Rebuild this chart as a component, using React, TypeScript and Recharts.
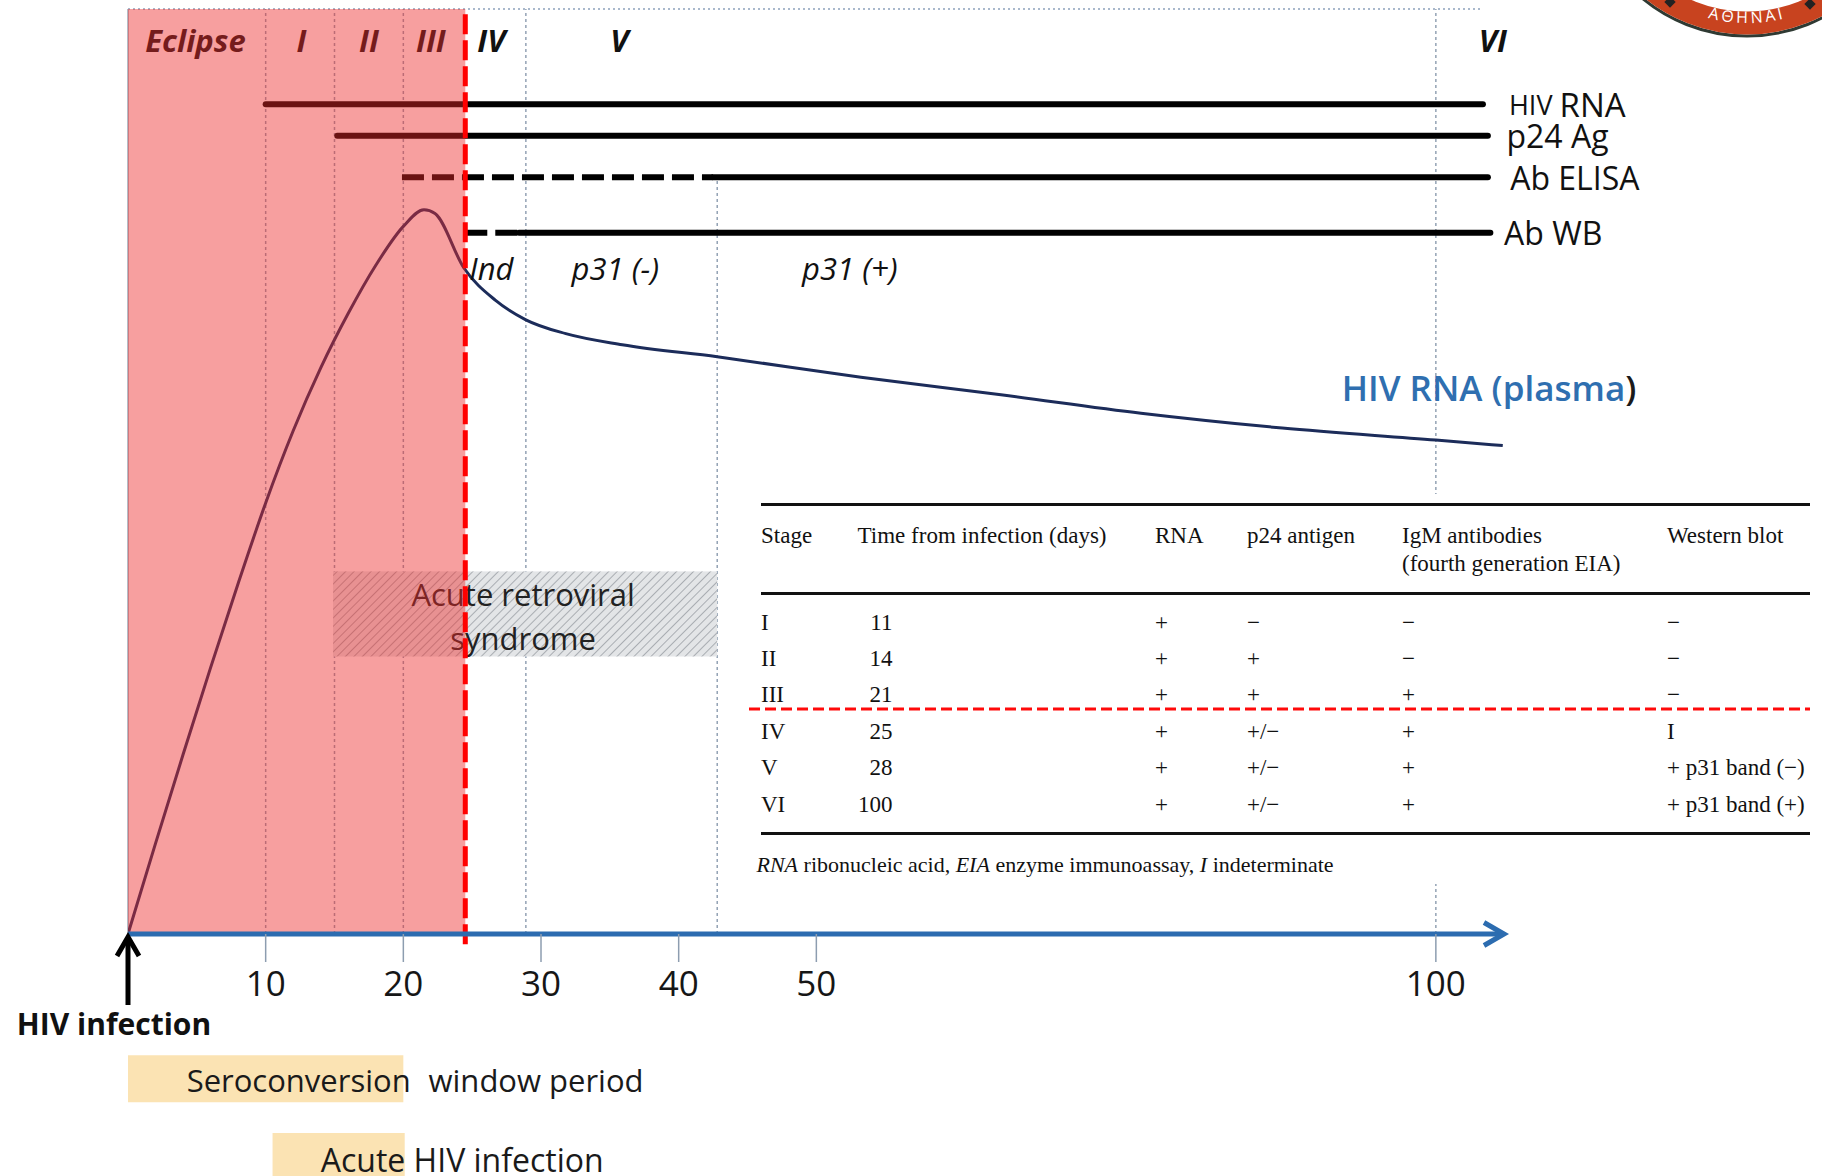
import React from 'react';
import { ComposedChart, Line, XAxis, YAxis, ReferenceArea, ReferenceLine, ReferenceDot } from 'recharts';

const SANS = "'Open Sans', 'DejaVu Sans', sans-serif";
const SERIF = "'Liberation Serif', 'Times New Roman', serif";

// ---------- axis ----------
const xTicks = [10, 20, 30, 40, 50, 100];
const X_DOMAIN = [0, 105.5];
const Y_DOMAIN = [0, 100];
const SCALE_BREAK_DAY = 50;
const SCALE_RATIO_AFTER_BREAK = 0.9;

// ---------- HIV RNA (plasma) curve ----------
const rnaDays = [0, 2, 4, 6, 8, 10, 12, 14, 16, 18, 20, 21.5, 22.3, 24.4, 26.7, 28.9, 31.8, 35.9, 42.8, 53.6, 64.9, 76.2, 87.6, 100, 105.4];
const rnaLevel = [0, 9.8, 19.4, 28.8, 37.9, 46.6, 54.4, 61.2, 67.1, 72.3, 76.5, 78.3, 77.9, 72.0, 68.5, 66.4, 64.9, 63.7, 62.4, 60.2, 58.3, 56.3, 54.7, 53.4, 52.8];

// ---------- stages ----------
const stageNames = ['Eclipse', 'I', 'II', 'III', 'IV', 'V', 'VI'];
const stageLabelDays = [4.9, 12.6, 17.5, 22.0, 26.4, 35.7, 104.6];
const stageLabelLevel = 96.6;

// vertical guide lines
const guideDays = [10, 15, 20, 28.9, 42.8, 100];
const guideTop = [100, 100, 100, 100, 81.8, 100];

// ---------- marker bars ----------
const markerNames = ['HIV RNA', 'p24 Ag', 'Ab ELISA', 'Ab WB'];
const markerStart = [10, 15.2, 19.9, 24.5];
const markerSolidFrom = [10, 15.2, 42.5, 28.4];
const markerEnd = [103.8, 104.2, 104.2, 104.4];
const markerLevel = [89.7, 86.3, 81.8, 75.8];
const markerLabelDay = [105.9, 105.7, 106.0, 105.5];

// western blot result labels
const wbLabels = ['Ind', 'p31 (-)', 'p31 (+)'];
const wbLabelDays = [26.4, 35.4, 52.7];
const wbLabelLevel = 72.0;

// periods
const eclipseEnd = 24.5;
const arsStart = 14.9;
const arsEnd = 42.8;
const arsLow = 30.0;
const arsHigh = 39.2;
const arsLines = ['Acute retroviral', 'syndrome'];
const arsLineLevels = [36.8, 32.0];
const arsLabelDay = 28.7;

const seroStart = 0;
const seroEnd = 20;
const seroLow = -18.2;
const seroHigh = -13.1;
const acuteStart = 10.5;
const acuteEnd = 20.1;
const acuteLow = -26.5;
const acuteHigh = -21.5;

// ---------- table ----------
const tableHeaders = ['Stage', 'Time from infection (days)', 'RNA', 'p24 antigen', 'IgM antibodies', 'Western blot'];
const tableHeaderLine2 = '(fourth generation EIA)';
const tableStages = ['I', 'II', 'III', 'IV', 'V', 'VI'];
const tableDays = ['11', '14', '21', '25', '28', '100'];
const tableRNA = ['+', '+', '+', '+', '+', '+'];
const tableP24 = ['\u2212', '+', '+', '+/\u2212', '+/\u2212', '+/\u2212'];
const tableIgM = ['\u2212', '\u2212', '+', '+', '+', '+'];
const tableWB = ['\u2212', '\u2212', '\u2212', 'I', '+ p31 band (\u2212)', '+ p31 band (+)'];

const rnaData = rnaDays.map((d, i) => ({ day: d, rna: rnaLevel[i] }));

// piecewise (compressed after day 50) scale, as drawn in the figure
function warpDay(d: number) {
  return d <= SCALE_BREAK_DAY ? d : SCALE_BREAK_DAY + (d - SCALE_BREAK_DAY) * SCALE_RATIO_AFTER_BREAK;
}
function unwarpDay(w: number) {
  return w <= SCALE_BREAK_DAY ? w : SCALE_BREAK_DAY + (w - SCALE_BREAK_DAY) / SCALE_RATIO_AFTER_BREAK;
}
function makeDayScale(): any {
  let dom: number[] = [0, 1];
  let rng: number[] = [0, 1];
  const scale: any = (v: any) => {
    const w0 = warpDay(dom[0]);
    const w1 = warpDay(dom[dom.length - 1]);
    const r0 = rng[0];
    const r1 = rng[rng.length - 1];
    if (w1 === w0) return r0;
    return r0 + ((warpDay(Number(v)) - w0) / (w1 - w0)) * (r1 - r0);
  };
  scale.domain = (...args: any[]) => {
    if (!args.length) return dom.slice();
    dom = Array.from(args[0] as any[]).map(Number);
    return scale;
  };
  scale.range = (...args: any[]) => {
    if (!args.length) return rng.slice();
    rng = Array.from(args[0] as any[]).map(Number);
    return scale;
  };
  scale.invert = (px: number) => {
    const w0 = warpDay(dom[0]);
    const w1 = warpDay(dom[dom.length - 1]);
    const r0 = rng[0];
    const r1 = rng[rng.length - 1];
    return unwarpDay(w0 + ((px - r0) / (r1 - r0)) * (w1 - w0));
  };
  scale.copy = () => makeDayScale().domain(dom).range(rng);
  scale.ticks = () => xTicks.filter((t) => t >= dom[0] && t <= dom[dom.length - 1]);
  scale.tickFormat = () => (v: any) => String(v);
  scale.nice = () => scale;
  scale.clamp = (...args: any[]) => (args.length ? scale : false);
  return scale;
}
const dayScale = makeDayScale();

const textShape = (content: React.ReactNode, attrs: any) => (p: any) => (
  <text x={p.cx} y={p.cy} dominantBaseline="central" fontFamily={SANS} {...attrs}>
    {content}
  </text>
);

const DayTick = (p: any) => (
  <text x={p.x} y={p.y} dy={32} textAnchor="middle" fontFamily={SANS} fontSize={35} fill="#161616">
    {p.payload.value}
  </text>
);

const infectionArrow = (p: any) => (
  <g>
    <path d={`M${p.cx},${p.cy + 71} L${p.cx},${p.cy + 4}`} stroke="#000" strokeWidth={5} fill="none" />
    <path d={`M${p.cx - 11},${p.cy + 22} L${p.cx},${p.cy + 3} L${p.cx + 11},${p.cy + 22}`} stroke="#000" strokeWidth={5} fill="none" />
    <text x={p.cx - 14} y={p.cy + 89} textAnchor="middle" dominantBaseline="central" fontFamily={SANS} fontWeight={700} fontSize={30} fill="#111">
      HIV infection
    </text>
  </g>
);

const axisArrowHead = (p: any) => (
  <path d={`M${p.cx - 20},${p.cy - 11.5} L${p.cx},${p.cy} L${p.cx - 20},${p.cy + 11.5}`} stroke="#2c6cb0" strokeWidth={5} fill="none" />
);

const arsShape = (p: any) => (
  <g>
    <defs>
      <pattern id="arsHatch" width={6} height={6} patternUnits="userSpaceOnUse" patternTransform="rotate(45)">
        <rect width={6} height={6} fill="#e3e5e7" />
        <line x1={0} y1={0} x2={0} y2={6} stroke="#a9adb2" strokeWidth={2} />
      </pattern>
    </defs>
    <rect x={p.x} y={p.y} width={p.width} height={p.height} fill="url(#arsHatch)" />
  </g>
);

const COLS = [16, 112.6, 410, 502, 657, 922];
const DAYS_RIGHT = 147.5;
const ROW_Y = [129, 165, 201, 238, 274, 311];

function Cell({ left, top, children, style }: any) {
  return (
    <div style={{ position: 'absolute', left, top: top - 14, lineHeight: '28px', whiteSpace: 'nowrap', ...style }}>
      {children}
    </div>
  );
}

function StageTable() {
  const rule = (top: number) => (
    <div style={{ position: 'absolute', left: 16, top: top - 1.5, width: 1049, height: 3, background: '#111' }} />
  );
  return (
    <div
      style={{
        position: 'absolute', left: 745, top: 494, width: 1077, height: 390, background: '#fff',
        fontFamily: SERIF, fontSize: 23, color: '#111',
      }}
    >
      {rule(10)}
      {rule(99)}
      {rule(339)}
      {tableHeaders.map((h, i) => (
        <Cell key={h} left={COLS[i]} top={42}>{h}</Cell>
      ))}
      <Cell left={COLS[4]} top={70}>{tableHeaderLine2}</Cell>
      {tableStages.map((s, r) => (
        <React.Fragment key={s}>
          <Cell left={COLS[0]} top={ROW_Y[r]}>{s}</Cell>
          <Cell left={DAYS_RIGHT - 80} top={ROW_Y[r]} style={{ width: 80, textAlign: 'right' }}>{tableDays[r]}</Cell>
          <Cell left={COLS[2]} top={ROW_Y[r]}>{tableRNA[r]}</Cell>
          <Cell left={COLS[3]} top={ROW_Y[r]}>{tableP24[r]}</Cell>
          <Cell left={COLS[4]} top={ROW_Y[r]}>{tableIgM[r]}</Cell>
          <Cell left={COLS[5]} top={ROW_Y[r]}>{tableWB[r]}</Cell>
        </React.Fragment>
      ))}
      <Cell left={11.5} top={370.5} style={{ fontSize: 22 }}>
        <i>RNA</i> ribonucleic acid, <i>EIA</i> enzyme immunoassay, <i>I</i> indeterminate
      </Cell>
      <svg style={{ position: 'absolute', left: 0, top: 212 }} width={1077} height={6}>
        <line x1={4} y1={3} x2={1065} y2={3} stroke="#ff0a0a" strokeWidth={3} strokeDasharray="11 5" />
      </svg>
    </div>
  );
}

function Seal() {
  const cx = 147;
  const cy = -128;
  const a = (35 * Math.PI) / 180;
  const rt = 151;
  const arc = `M${cx - rt * Math.sin(a)},${cy + rt * Math.cos(a)} A${rt},${rt} 0 0 0 ${cx + rt * Math.sin(a)},${cy + rt * Math.cos(a)}`;
  return (
    <svg style={{ position: 'absolute', left: 1600, top: 0 }} width={222} height={60}>
      <circle cx={cx} cy={cy} r={164} fill="#fff" stroke="#2f3a33" strokeWidth={3} />
      <circle cx={cx} cy={cy} r={151} fill="none" stroke="#c8431f" strokeWidth={23} />
      <defs>
        <path id="sealArc" d={arc} />
      </defs>
      <text fontFamily={SANS} fontSize={16} fill="#fff" letterSpacing={3}>
        <textPath href="#sealArc" startOffset="50%" textAnchor="middle">ΑΘΗΝΑΙ</textPath>
      </text>
      <rect x={66} y={-2} width={8} height={8} fill="#222" transform="rotate(45 70 2)" />
      <rect x={206} y={0} width={8} height={8} fill="#222" transform="rotate(45 210 4)" />
    </svg>
  );
}

export default function App() {
  return (
    <div style={{ position: 'relative', width: 1822, height: 1176, background: '#fff', overflow: 'hidden' }}>
      <style>{'body{margin:0}'}</style>
      <ComposedChart width={1822} height={1176} data={rnaData} margin={{ top: 9, right: 318, bottom: 182, left: 128 }}>
        <XAxis
          dataKey="day"
          type="number"
          domain={X_DOMAIN}
          scale={dayScale}
          ticks={xTicks}
          interval={0}
          allowDataOverflow
          height={60}
          tickSize={28}
          tickLine={{ stroke: '#8d9db0', strokeWidth: 1.5 }}
          axisLine={{ stroke: '#2c6cb0', strokeWidth: 5 }}
          tick={DayTick}
        />
        <YAxis type="number" domain={Y_DOMAIN} hide allowDataOverflow />

        {/* left border and top dotted border */}
        <ReferenceLine segment={[{ x: 0, y: 0 }, { x: 0, y: 100 }]} stroke="#b4bcc6" strokeWidth={2} zIndex={50} ifOverflow="visible" />
        <ReferenceLine segment={[{ x: 0, y: 100 }, { x: 103.6, y: 100 }]} stroke="#a9b8cc" strokeWidth={2} strokeDasharray="2 3" zIndex={50} ifOverflow="visible" />
        {guideDays.map((d, i) => (
          <ReferenceLine
            key={'g' + d}
            segment={[{ x: d, y: 0 }, { x: d, y: guideTop[i] }]}
            stroke="#93a2b4"
            strokeWidth={1.5}
            strokeDasharray="3 3"
            zIndex={50}
            ifOverflow="visible"
          />
        ))}

        {/* acute retroviral syndrome */}
        <ReferenceArea x1={arsStart} x2={arsEnd} y1={arsLow} y2={arsHigh} shape={arsShape} zIndex={60} ifOverflow="visible" />
        {arsLines.map((t, i) => (
          <ReferenceDot
            key={t}
            x={arsLabelDay}
            y={arsLineLevels[i]}
            r={1}
            zIndex={70}
            ifOverflow="visible"
            shape={textShape(t, { textAnchor: 'middle', fontSize: 31, fill: '#222' })}
          />
        ))}

        {/* marker bars */}
        {markerNames.map((m, i) => (
          <React.Fragment key={m}>
            {markerSolidFrom[i] > markerStart[i] && (
              <ReferenceLine
                segment={[{ x: markerStart[i], y: markerLevel[i] }, { x: markerSolidFrom[i], y: markerLevel[i] }]}
                stroke="#000"
                strokeWidth={6}
                strokeDasharray="22 8"
                zIndex={80}
                ifOverflow="visible"
              />
            )}
            <ReferenceLine
              segment={[{ x: markerSolidFrom[i], y: markerLevel[i] }, { x: markerEnd[i], y: markerLevel[i] }]}
              stroke="#000"
              strokeWidth={6}
              strokeLinecap="round"
              zIndex={80}
              ifOverflow="visible"
            />
            <ReferenceDot
              x={markerLabelDay[i]}
              y={markerLevel[i]}
              r={1}
              zIndex={90}
              ifOverflow="visible"
              shape={textShape(
                i === 0 ? (
                  <>
                    <tspan fontSize={27}>HIV </tspan>
                    <tspan fontSize={33}>RNA</tspan>
                  </>
                ) : (
                  m
                ),
                { textAnchor: 'start', fontSize: 32, fill: '#111' }
              )}
            />
          </React.Fragment>
        ))}

        <Line type="monotone" dataKey="rna" stroke="#1c2c5a" strokeWidth={3} dot={false} activeDot={false} isAnimationActive={false} zIndex={100} />

        {stageNames.map((s, i) => (
          <ReferenceDot
            key={s}
            x={stageLabelDays[i]}
            y={stageLabelLevel}
            r={1}
            zIndex={110}
            ifOverflow="visible"
            shape={textShape(s, { textAnchor: 'middle', fontSize: 31, fontWeight: 700, fontStyle: 'italic', fill: '#111' })}
          />
        ))}
        {wbLabels.map((s, i) => (
          <ReferenceDot
            key={s}
            x={wbLabelDays[i]}
            y={wbLabelLevel}
            r={1}
            zIndex={110}
            ifOverflow="visible"
            shape={textShape(s, { textAnchor: 'middle', fontSize: 31, fontStyle: 'italic', fill: '#111' })}
          />
        ))}
        <ReferenceDot
          x={92.4}
          y={59.1}
          r={1}
          zIndex={110}
          ifOverflow="visible"
          shape={textShape(
            <>
              <tspan fill="#2f6fb0">HIV RNA (plasma</tspan>
              <tspan fill="#1a1a1a">)</tspan>
            </>,
            { textAnchor: 'start', fontSize: 35, fontWeight: 600 }
          )}
        />

        {/* eclipse period overlay */}
        <ReferenceArea x1={0} x2={eclipseEnd} y1={0} y2={100} fill="#ee2a2a" fillOpacity={0.45} stroke="none" zIndex={450} ifOverflow="visible" />
        <ReferenceLine
          segment={[{ x: eclipseEnd, y: -1.1 }, { x: eclipseEnd, y: 100 }]}
          stroke="#ff0000"
          strokeWidth={5}
          strokeDasharray="20 6"
          zIndex={460}
          ifOverflow="visible"
        />

        {/* bottom period labels */}
        <ReferenceArea x1={seroStart} x2={seroEnd} y1={seroLow} y2={seroHigh} fill="#fbe3b3" stroke="none" fillOpacity={1} zIndex={600} ifOverflow="visible" />
        <ReferenceArea x1={acuteStart} x2={acuteEnd} y1={acuteLow} y2={acuteHigh} fill="#fbe3b3" stroke="none" fillOpacity={1} zIndex={600} ifOverflow="visible" />
        <ReferenceDot x={4.26} y={-15.8} r={1} zIndex={610} ifOverflow="visible" shape={textShape('Seroconversion', { textAnchor: 'start', fontSize: 31, fill: '#1a1a1a' })} />
        <ReferenceDot x={21.83} y={-15.8} r={1} zIndex={610} ifOverflow="visible" shape={textShape('window period', { textAnchor: 'start', fontSize: 31, fill: '#1a1a1a' })} />
        <ReferenceDot x={14.0} y={-24.4} r={1} zIndex={610} ifOverflow="visible" shape={textShape('Acute HIV infection', { textAnchor: 'start', fontSize: 32, fill: '#1a1a1a' })} />
        <ReferenceDot x={0} y={0} r={1} zIndex={620} ifOverflow="visible" shape={infectionArrow} />
        <ReferenceDot x={X_DOMAIN[1]} y={0} r={1} zIndex={620} ifOverflow="visible" shape={axisArrowHead} />
      </ComposedChart>
      <StageTable />
      <Seal />
    </div>
  );
}
